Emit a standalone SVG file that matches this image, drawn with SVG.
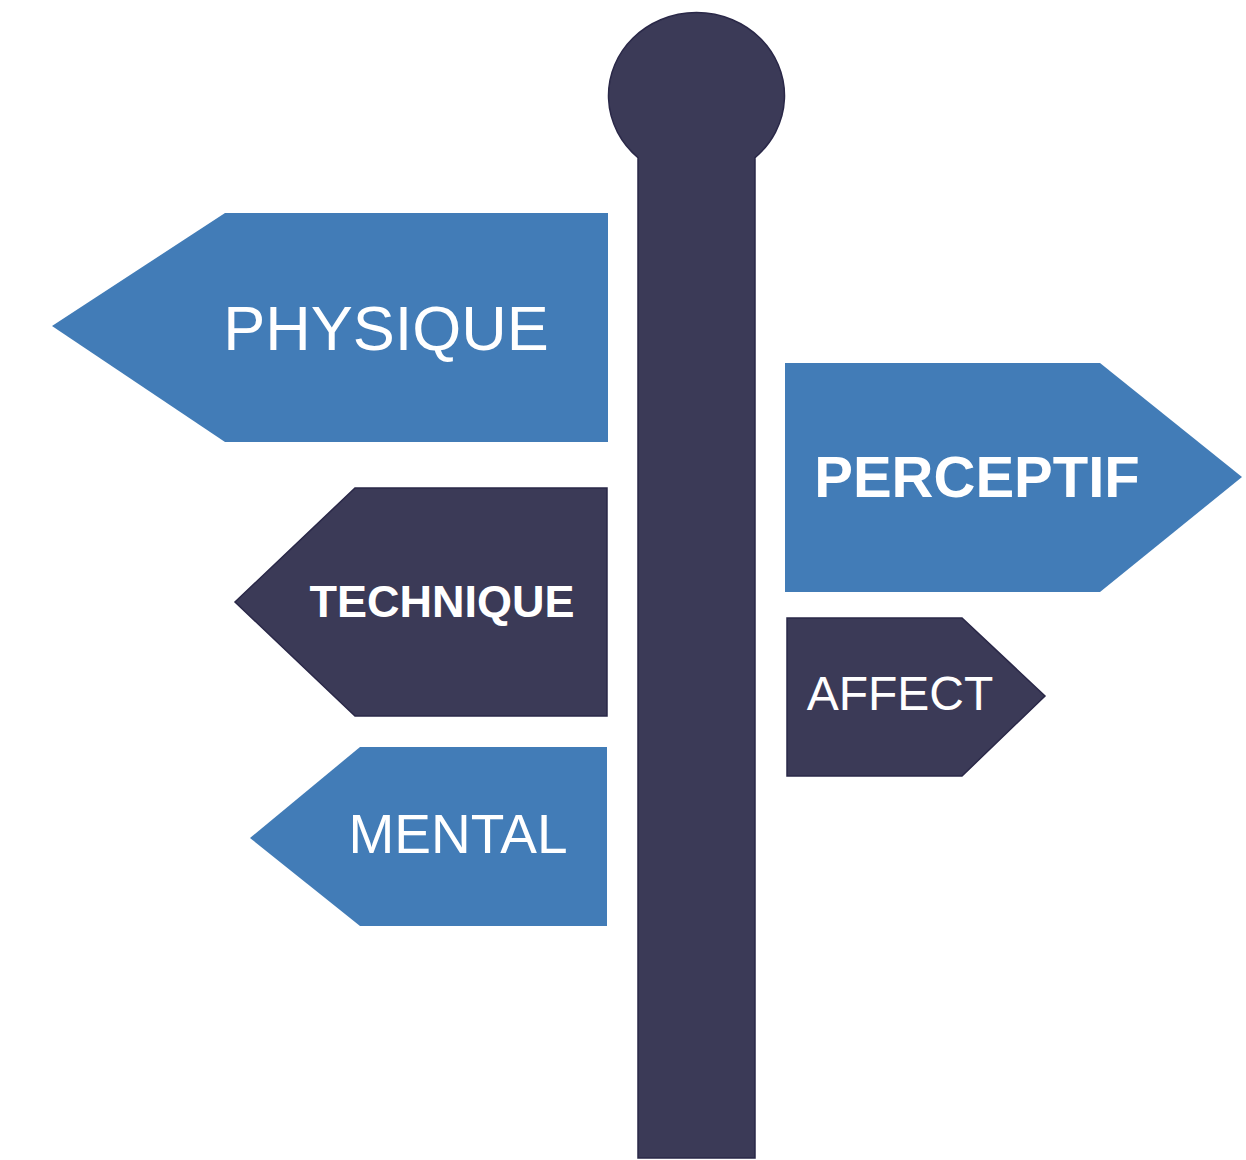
<svg xmlns="http://www.w3.org/2000/svg" width="1246" height="1160" viewBox="0 0 1246 1160">
<style>
.blue{fill:#427cb7}
.dark{fill:#3b3a57;stroke:#2a2848;stroke-width:1.5}
.t{fill:#ffffff;font-family:"Liberation Sans",Arial,sans-serif}
.b{font-weight:bold}
</style>
<rect width="1246" height="1160" fill="#ffffff"/>
<g id="post">
<path class="dark" d="M638,1158 L638,157.6 A88,83 0 1 1 755,157.6 L755,1158 Z"/>
</g>
<g id="physique">
<polygon class="blue" points="608,213 225,213 52,326 225,442 608,442"/>
<text class="t" x="386" y="350" font-size="63" text-anchor="middle">PHYSIQUE</text>
</g>
<g id="perceptif">
<polygon class="blue" points="785,363 1100,363 1242,477 1100,592 785,592"/>
<text class="t b" x="977" y="497" font-size="58" text-anchor="middle">PERCEPTIF</text>
</g>
<g id="technique">
<polygon class="dark" points="607,488 355,488 235,602 355,716 607,716"/>
<text class="t b" x="442" y="617" font-size="45" text-anchor="middle">TECHNIQUE</text>
</g>
<g id="affect">
<polygon class="dark" points="787,618 962,618 1045,696 962,776 787,776"/>
<text class="t" x="900" y="710" font-size="48" text-anchor="middle">AFFECT</text>
</g>
<g id="mental">
<polygon class="blue" points="607,747 360,747 250,838 360,926 607,926"/>
<text class="t" x="458" y="853" font-size="55" text-anchor="middle">MENTAL</text>
</g>
<g id="connectors"></g>
</svg>
